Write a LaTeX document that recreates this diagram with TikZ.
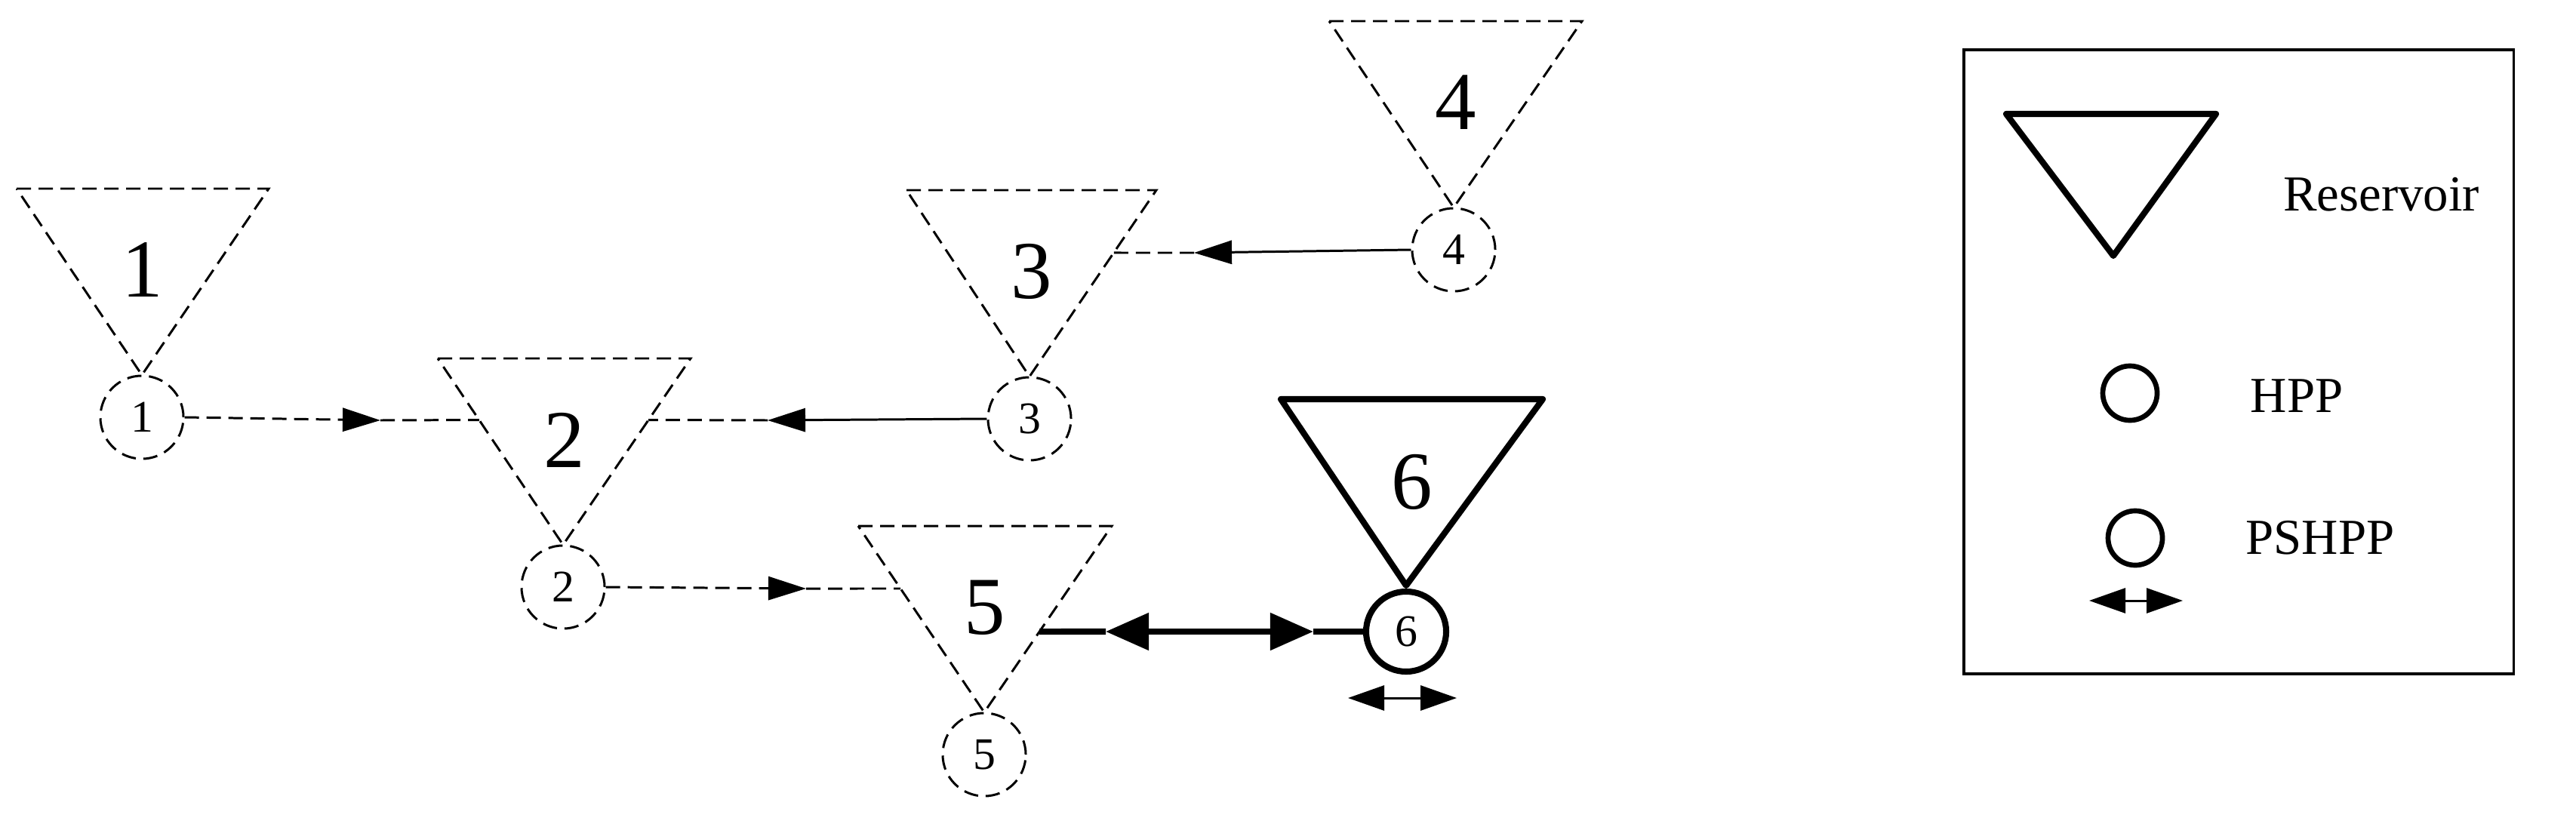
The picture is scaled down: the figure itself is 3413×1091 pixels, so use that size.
\documentclass[tikz,border=0pt]{standalone}
\usepackage{fontspec}
\setmainfont{Liberation Serif}
\usetikzlibrary{arrows.meta,calc}
\begin{document}
\begin{tikzpicture}[x=0.01cm,y=-0.01cm,
  dsh/.style={line width=0.85pt,dash pattern=on 0.19cm off 0.1cm},
  thn/.style={line width=0.85pt},
  thk/.style={line width=2.3pt},
  hd/.style={-{Triangle[length=0.5cm,width=0.31cm]}},
  bighd/.style={{Triangle[length=0.57cm,width=0.48cm]}-{Triangle[length=0.57cm,width=0.48cm]}},
  smallhd/.style={{Triangle[length=0.48cm,width=0.33cm]}-{Triangle[length=0.48cm,width=0.33cm]}},
  bignum/.style={font=\fontsize{31}{31}\selectfont,inner sep=0pt},
  smallnum/.style={font=\fontsize{17}{17}\selectfont,inner sep=0pt},
  circ/.style={circle,minimum size=1.1cm,inner sep=0pt},
  legtxt/.style={font=\fontsize{19}{19}\selectfont,inner sep=0pt}]
\useasboundingbox (0,0) rectangle (3413,1091);
\foreach \n/\l/\r/\t/\a in {1/22/356/250/188, 2/580/915/475/746, 3/1201/1532/252/1364, 4/1761/2096/28/1926, 5/1137/1473/697/1304, 6/1697/2044/529/1863}{
  \coordinate (tl\n) at (\l,\t);
  \coordinate (tr\n) at (\r,\t);
  \coordinate (ap\n) at (\a,\t+247);
}
\foreach \n in {1,2,3,4,5}{
  \draw[dsh] (tl\n) -- (tr\n) -- (ap\n) -- cycle;
  \node[bignum] (R\n) at ($(tl\n)!0.5!(tr\n)+(0,108)$) {\n};
  \node[circ,dsh,draw] (H\n) at ($(ap\n)+(0,56)$) {};
  \node[smallnum] (h\n) at (H\n) {\n};
}
\draw[thk,line join=round] (tl6) -- (tr6) -- (ap6) -- cycle;
\node[bignum] (R6) at ($(tl6)!0.5!(tr6)+(0,110)$) {6};
\node[circ,thk,draw,minimum size=1.06cm] (H6) at (1863,837) {};
\node[smallnum] (h6) at (H6) {6};
\coordinate (e2l) at ($(tl2)!0.33!(ap2)$);
\coordinate (e2r) at ($(tr2)!0.33!(ap2)$);
\coordinate (e3r) at ($(tr3)!0.336!(ap3)$);
\coordinate (e5l) at ($(tl5)!0.336!(ap5)$);
\coordinate (e5r) at ($(tr5)!0.567!(ap5)$);
\coordinate (a12) at (504,557);
\draw[dsh,hd] (H1.east) -- (a12);
\draw[dsh] (a12) -- (e2l);
\coordinate (a32) at (1017,557);
\draw[thn,hd] (H3.west) -- (a32);
\draw[dsh] (a32) -- (e2r);
\coordinate (a43) at (1582,335);
\draw[thn,hd] (H4.west) -- (a43);
\draw[dsh] (a43) -- (e3r);
\coordinate (a25) at (1068,780);
\draw[dsh,hd] (H2.east) -- (a25);
\draw[dsh] (a25) -- (e5l);
\coordinate (b1) at (1465,837);
\coordinate (b2) at (1740,837);
\draw[thk] (e5r) -- (b1);
\draw[thk,bighd] (b1) -- (b2);
\draw[thk] (b2) -- (H6.west);
\coordinate (p1) at (1786,925);
\coordinate (p2) at (1930,925);
\draw[thn,smallhd] (p1) -- (p2);
\node[draw,line width=1pt,minimum width=7.28cm,minimum height=8.27cm,inner sep=0pt] (leg) at (2966,479.5) {};
\coordinate (lt1) at (2658,151);
\coordinate (lt2) at (2936,151);
\coordinate (lt3) at (2800,339);
\draw[thk,line join=round] (lt1) -- (lt2) -- (lt3) -- cycle;
\node[circ,draw,line width=1.9pt,minimum size=0.72cm] (lc1) at (2822,521) {};
\node[circ,draw,line width=1.9pt,minimum size=0.72cm] (lc2) at (2829,713) {};
\coordinate (lp1) at (2768,796);
\coordinate (lp2) at (2892,796);
\draw[thn,smallhd] (lp1) -- (lp2);
\node[legtxt] (t1) at (3155,258) {Reservoir};
\node[legtxt] (t2) at (3043,525) {HPP};
\node[legtxt] (t3) at (3074,713) {PSHPP};
\end{tikzpicture}
\end{document}
